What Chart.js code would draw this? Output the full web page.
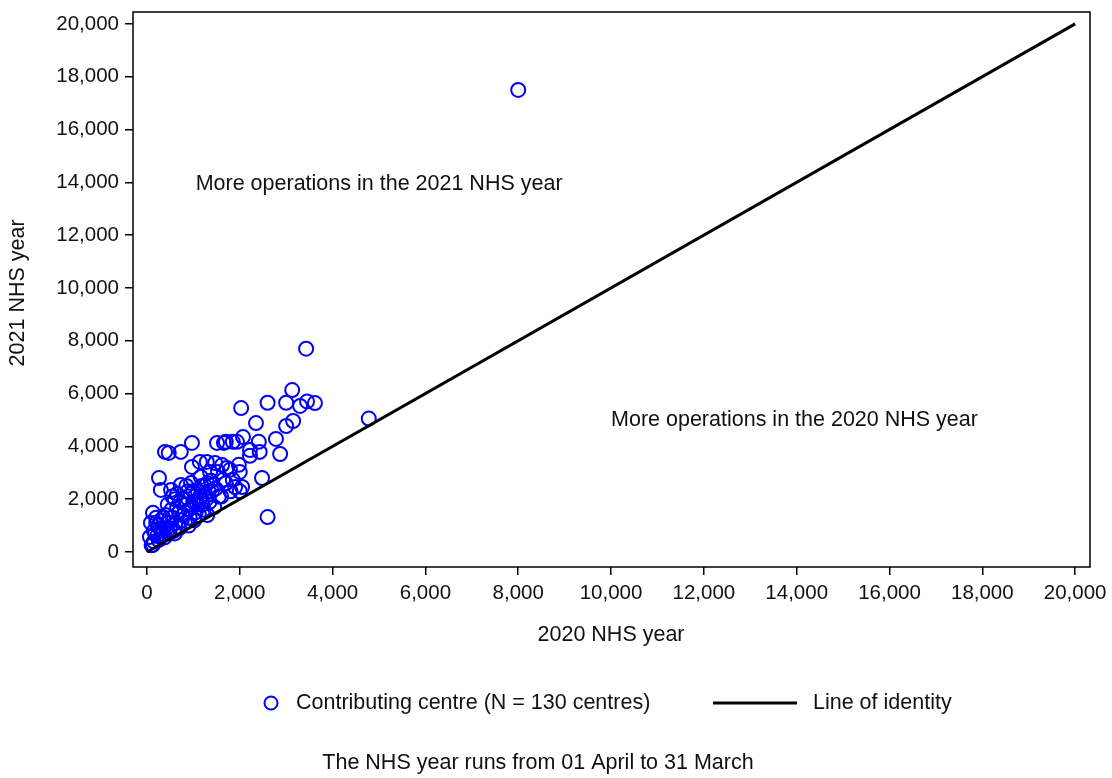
<!DOCTYPE html>
<html>
<head>
<meta charset="utf-8">
<script src="https://cdn.jsdelivr.net/npm/chart.js@4.4.1/dist/chart.umd.min.js"></script>
<style>
  html, body { margin: 0; padding: 0; background: #fff; }
  #wrap { width: 1112px; height: 778px; }
</style>
</head>
<body>
<div id="wrap"><canvas id="scatter" width="1112" height="778"></canvas></div>
<script>
// operations per centre: 2020 NHS year (x) vs 2021 NHS year (y)
const year2020 = [
  8000, 3430, 4780, 2600, 3130, 2030, 2600, 3000, 3300, 3450,
  3620, 2350, 3000, 3150, 2070, 1700, 1850, 2780, 2410, 2430,
  2870, 2220, 1980, 1720, 2480, 2000, 1640, 1850, 1900, 2050,
  390, 470, 730, 970, 1510, 1660, 1940, 2220, 970, 1140,
  1290, 1470, 1620, 1790, 1360, 1530, 260, 300, 520, 730,
  950, 1160, 86, 130, 65, 130, 2000, 1300, 1550, 1250,
  200, 250, 300, 350, 400, 450, 500, 550, 600, 650,
  700, 750, 800, 850, 900, 950, 1000, 1050, 1100, 1150,
  1200, 1250, 1300, 1350, 1400, 1450, 100, 150, 180, 220,
  250, 280, 320, 380, 420, 480, 530, 580, 620, 680,
  720, 780, 820, 880, 920, 980, 1020, 1080, 1120, 1180,
  1220, 1280, 1330, 1380, 1480, 1600, 1700, 1800, 200, 350,
  450, 550, 650, 850, 1000, 1150, 700, 900, 600, 150
];
const year2021 = [
  17500, 7700, 5050, 1320, 6130, 5450, 5650, 5650, 5530, 5700,
  5640, 4880, 4770, 4960, 4350, 4170, 4170, 4280, 4170, 3790,
  3710, 3640, 3300, 3180, 2800, 3030, 2730, 2730, 2460, 2460,
  3790, 3750, 3790, 4130, 4130, 4130, 4170, 3860, 3220, 3410,
  3410, 3370, 3290, 3110, 3030, 3030, 2800, 2350, 2350, 2540,
  2610, 2840, 1100, 1480, 570, 270, 2300, 1400, 2100, 2500,
  1300, 1000, 1200, 800, 1400, 1100, 900, 1300, 2000, 1700,
  1500, 1200, 2000, 1800, 1600, 2200, 1900, 1500, 2300, 2000,
  1800, 2200, 2600, 1900, 2300, 1700, 250, 400, 700, 600,
  450, 900, 650, 550, 900, 700, 1600, 800, 1100, 950,
  1900, 1400, 1100, 2300, 1300, 1700, 1200, 1800, 1400, 2500,
  1600, 2000, 2300, 2700, 2400, 2100, 2600, 2300, 1100, 1300,
  1800, 2100, 2200, 2500, 2300, 2100, 900, 1000, 700, 800
];
const identityLine = [0, 20000];
const tickValues = [0, 2000, 4000, 6000, 8000, 10000, 12000, 14000, 16000, 18000, 20000];

// region notes, placed in data units (left edge of text)
const notes = [
  { text: 'More operations in the 2021 NHS year', x: 1050, y: 13950 },
  { text: 'More operations in the 2020 NHS year', x: 10000, y: 4980 }
];

const FONT = "'Liberation Sans', Arial, sans-serif";
const INK = '#111';

const points = year2020.map((v, i) => ({ x: v, y: year2021[i] }));

const extras = {
  id: 'extras',
  afterDraw(chart) {
    const ctx = chart.ctx;
    const a = chart.chartArea;
    const xs = chart.scales.x, ys = chart.scales.y;
    ctx.save();
    // frame
    ctx.strokeStyle = '#000';
    ctx.lineWidth = 1.5;
    ctx.strokeRect(a.left, a.top, a.right - a.left, a.bottom - a.top);

    ctx.fillStyle = INK;
    ctx.font = '21.5px ' + FONT;
    ctx.textBaseline = 'middle';

    ctx.textAlign = 'left';
    notes.forEach(n => {
      ctx.fillText(n.text, xs.getPixelForValue(n.x), ys.getPixelForValue(n.y));
    });

    // axis titles
    ctx.textAlign = 'center';
    ctx.fillText('2020 NHS year', (xs.getPixelForValue(0) + xs.getPixelForValue(20000)) / 2, 635);
    ctx.save();
    ctx.translate(18, (ys.getPixelForValue(0) + ys.getPixelForValue(20000)) / 2 + 5);
    ctx.rotate(-Math.PI / 2);
    ctx.fillText('2021 NHS year', 0, 0);
    ctx.restore();

    // legend
    const ly = 703;
    ctx.beginPath();
    ctx.strokeStyle = '#0000ff';
    ctx.lineWidth = 2;
    ctx.arc(271, ly, 6.5, 0, Math.PI * 2);
    ctx.stroke();
    ctx.textAlign = 'left';
    ctx.fillText('Contributing centre (N = 130 centres)', 296, ly);
    ctx.beginPath();
    ctx.strokeStyle = '#000';
    ctx.lineWidth = 3;
    ctx.moveTo(713, ly);
    ctx.lineTo(797, ly);
    ctx.stroke();
    ctx.fillText('Line of identity', 813, ly);

    // footnote
    ctx.textAlign = 'center';
    ctx.fillText('The NHS year runs from 01 April to 31 March', 538, 763);
    ctx.restore();
  }
};

const axisCommon = {
  type: 'linear',
  border: { display: false },
  grid: {
    drawOnChartArea: false,
    drawTicks: true,
    tickLength: 8,
    color: '#000',
    lineWidth: 1.5
  },
  ticks: {
    color: INK,
    font: { family: FONT, size: 20.5 },
    callback: v => v.toLocaleString('en-US'),
    autoSkip: false,
    maxRotation: 0
  },
  afterBuildTicks: scale => { scale.ticks = tickValues.map(v => ({ value: v })); }
};

new Chart(document.getElementById('scatter'), {
  type: 'scatter',
  data: {
    datasets: [
      {
        type: 'line',
        label: 'Line of identity',
        data: identityLine.map(v => ({ x: v, y: v })),
        borderColor: '#000',
        borderWidth: 3,
        pointRadius: 0,
        fill: false
      },
      {
        label: 'Contributing centre (N = 130 centres)',
        data: points,
        pointStyle: 'circle',
        pointRadius: 7,
        pointBorderWidth: 2,
        pointBorderColor: '#0000ff',
        pointBackgroundColor: 'rgba(0,0,0,0)'
      }
    ]
  },
  options: {
    responsive: false,
    animation: false,
    layout: { padding: { top: 12, right: 22, bottom: 161, left: 0 } },
    plugins: {
      legend: { display: false },
      tooltip: { enabled: false }
    },
    scales: {
      x: Object.assign({}, axisCommon, {
        min: -300, max: 20320,
        ticks: Object.assign({}, axisCommon.ticks, { padding: 6 }),
        afterFit: scale => { scale.height = 50; scale.paddingLeft = 0; scale.paddingRight = 0; }
      }),
      y: Object.assign({}, axisCommon, {
        min: -570, max: 20450,
        ticks: Object.assign({}, axisCommon.ticks, { padding: 6 }),
        afterFit: scale => { scale.width = 133; scale.paddingTop = 0; scale.paddingBottom = 0; }
      })
    }
  },
  plugins: [extras]
});
</script>
</body>
</html>
